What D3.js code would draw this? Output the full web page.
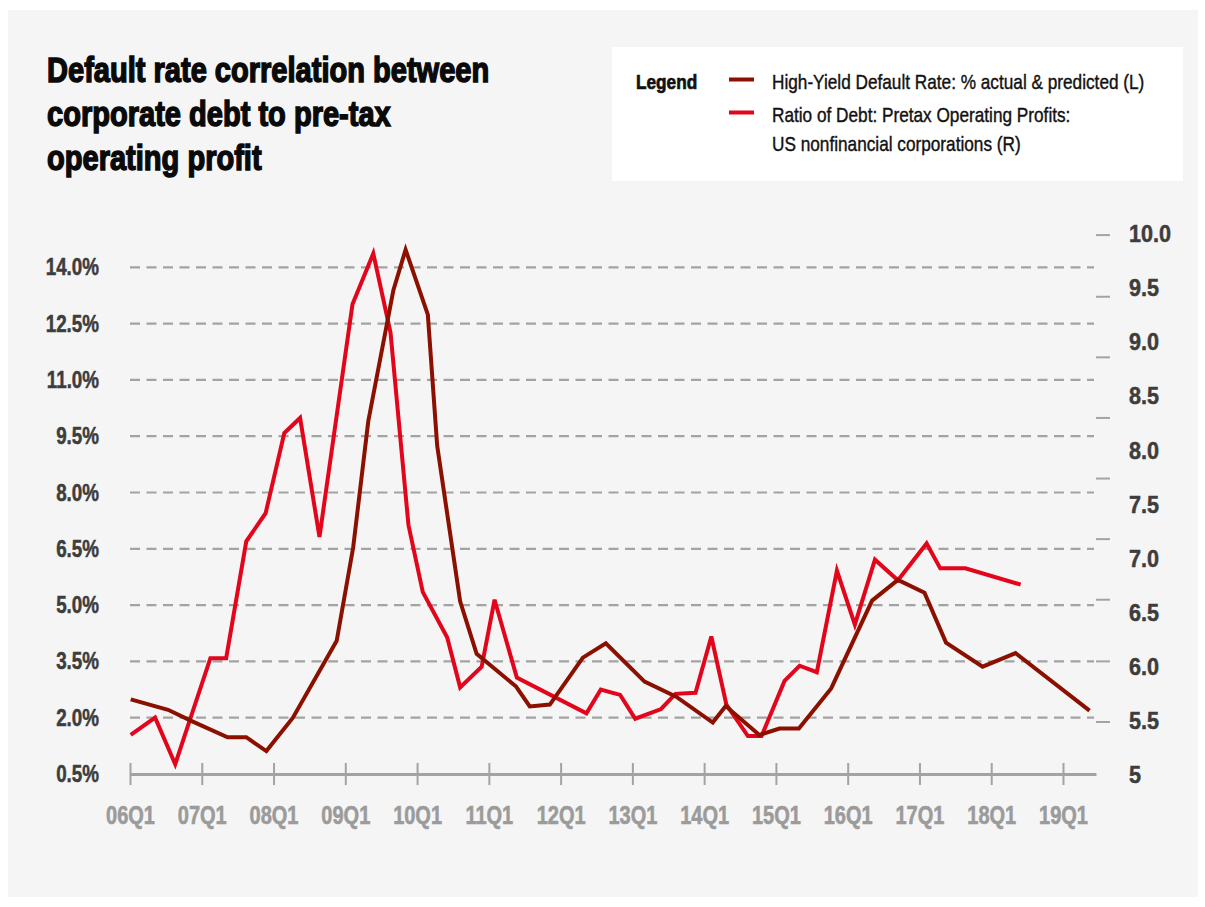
<!DOCTYPE html>
<html>
<head>
<meta charset="utf-8">
<script src="https://cdn.jsdelivr.net/npm/d3@7"></script>
<style>
  body { margin: 0; background: #ffffff; }
  text { font-family: 'Liberation Sans', Arial, sans-serif; }
</style>
</head>
<body>
<div id="graf"></div>
<script>
// Datos (fecha en anios decimales)
const defaultDates = [2006.01, 2006.53, 2006.86, 2007.36, 2007.62, 2007.90, 2008.27, 2008.88, 2009.11, 2009.32,
                      2009.67, 2009.84, 2010.15, 2010.28, 2010.60, 2010.83, 2011.38, 2011.57, 2011.85, 2012.31,
                      2012.63, 2013.17, 2013.61, 2014.12, 2014.30, 2014.77, 2015.05, 2015.32, 2015.77, 2016.34,
                      2016.70, 2017.07, 2017.37, 2017.88, 2018.34, 2019.37]
const defaultRate  = [2.49, 2.21, 1.91, 1.48, 1.48, 1.11, 2.00, 4.05, 6.54, 9.90,
                      13.39, 14.47, 12.74, 9.25, 5.10, 3.70, 2.83, 2.30, 2.35, 3.60,
                      3.98, 2.96, 2.56, 1.87, 2.31, 1.54, 1.71, 1.71, 2.78, 5.12,
                      5.67, 5.33, 4.00, 3.36, 3.72, 2.19]

const ratioDates  = [2006.01, 2006.35, 2006.63, 2007.12, 2007.34, 2007.62, 2007.89, 2008.15, 2008.37, 2008.64,
                     2009.10, 2009.39, 2009.63, 2009.88, 2010.08, 2010.42, 2010.60, 2010.90, 2011.08, 2011.39,
                     2012.36, 2012.56, 2012.83, 2013.04, 2013.40, 2013.60, 2013.88, 2014.10, 2014.31, 2014.61,
                     2014.80, 2015.12, 2015.33, 2015.57, 2015.85, 2016.10, 2016.38, 2016.70, 2017.10, 2017.29,
                     2017.64, 2018.41]
const ratioValues = [5.37, 5.53, 5.10, 6.08, 6.08, 7.16, 7.42, 8.16, 8.30, 7.20,
                     9.35, 9.82, 9.09, 7.31, 6.69, 6.27, 5.81, 6.00, 6.62, 5.90,
                     5.57, 5.79, 5.74, 5.52, 5.61, 5.75, 5.76, 6.28, 5.65, 5.36,
                     5.36, 5.87, 6.01, 5.95, 6.89, 6.39, 6.99, 6.80, 7.14, 6.91,
                     6.91, 6.76]

// Etiquetas de los ejes
const xTickYears   = [2006, 2007, 2008, 2009, 2010, 2011, 2012, 2013, 2014, 2015, 2016, 2017, 2018, 2019]
const xTickLabels  = ['06Q1', '07Q1', '08Q1', '09Q1', '10Q1', '11Q1', '12Q1', '13Q1', '14Q1', '15Q1', '16Q1', '17Q1', '18Q1', '19Q1']
const leftTicks    = [0.5, 2.0, 3.5, 5.0, 6.5, 8.0, 9.5, 11.0, 12.5, 14.0]
const rightTicks   = [5, 5.5, 6, 6.5, 7, 7.5, 8, 8.5, 9, 9.5, 10]
const rightMarks   = [9.99, 9.42, 8.86, 8.3, 7.74, 7.18, 6.62, 6.05, 5.49]

const titleLines  = ['Default rate correlation between', 'corporate debt to pre-tax', 'operating profit']
const legendItems = ['High-Yield Default Rate: % actual & predicted (L)', 'Ratio of Debt: Pretax Operating Profits:', 'US nonfinancial corporations (R)']

const colorDark = '#8b1000'
const colorRed  = '#e3051b'
const colorGrid = '#a3a3a3'

// Factor para simular letra angosta (condensada)
const angosto = 0.82

ancho_total = 1205
alto_total  = 907

svg = d3.select('#graf').append('svg')
        .attr('width', ancho_total)
        .attr('height', alto_total)

// Fondo gris del panel
svg.append('rect')
   .attr('x', 8).attr('y', 10)
   .attr('width', 1190).attr('height', 887)
   .attr('fill', '#f5f5f5')

// Escaladores
x  = d3.scaleLinear().domain([2006, 2019.46]).range([130, 1096])
yL = d3.scaleLinear().domain([0.5, 14]).range([774, 267.3])
yR = d3.scaleLinear().domain([5, 10]).range([775, 234])

// Titulo
svg.append('g').selectAll('text')
   .data(titleLines)
   .enter().append('text')
   .attr('transform', (d, i) => `translate(47, ${ 82 + i * 44 }) scale(0.83, 1)`)
   .attr('font-size', '35px')
   .attr('font-weight', 'bold')
   .attr('fill', '#0a0a0a')
   .attr('stroke', '#0a0a0a')
   .attr('stroke-width', 1.5)
   .text(d => d)

// Leyenda
leyenda = svg.append('g')
leyenda.append('rect')
       .attr('x', 612).attr('y', 47)
       .attr('width', 571).attr('height', 134)
       .attr('fill', '#ffffff')
leyenda.append('text')
       .attr('transform', `translate(636, 89) scale(${ angosto }, 1)`)
       .attr('font-size', '21px')
       .attr('font-weight', 'bold')
       .attr('fill', '#111')
       .attr('stroke', '#111')
       .attr('stroke-width', 0.7)
       .text('Legend')
leyenda.selectAll('line.sw')
       .data([colorDark, colorRed])
       .enter().append('line')
       .attr('class', 'sw')
       .attr('x1', 729).attr('x2', 754)
       .attr('y1', (d, i) => 79.5 + i * 33)
       .attr('y2', (d, i) => 79.5 + i * 33)
       .attr('stroke', d => d)
       .attr('stroke-width', 4)
leyenda.selectAll('text.item')
       .data(legendItems)
       .enter().append('text')
       .attr('class', 'item')
       .attr('transform', (d, i) => `translate(772, ${ [89, 121.7, 150.5][i] }) scale(${ angosto }, 1)`)
       .attr('font-size', '21px')
       .attr('fill', '#111')
       .attr('stroke', '#111')
       .attr('stroke-width', 0.4)
       .text(d => d)

// Lineas de cuadricula punteadas
svg.append('g').selectAll('line')
   .data(leftTicks.slice(1))
   .enter().append('line')
   .attr('x1', 130).attr('x2', 1094)
   .attr('y1', d => yL(d)).attr('y2', d => yL(d))
   .attr('stroke', colorGrid)
   .attr('stroke-width', 2.2)
   .attr('stroke-dasharray', '10,6.5')

// Eje izquierdo
yAxisCall = d3.axisLeft(yL)
              .tickValues(leftTicks)
              .tickSize(0)
              .tickPadding(0)
              .tickFormat(d => d.toFixed(1) + '%')
yAxisGroup = svg.append('g')
                .attr('transform', 'translate(99, 0)')
                .call(yAxisCall)
yAxisGroup.select('.domain').remove()
yAxisGroup.selectAll('text')
          .attr('font-family', null)
          .attr('font-size', '23.5px')
          .attr('font-weight', 'bold')
          .attr('fill', '#3d3d3d')
          .attr('stroke', '#3d3d3d')
          .attr('stroke-width', 0.5)
          .attr('transform', `scale(0.8, 1)`)

// Eje derecho
yRAxisCall = d3.axisRight(yR)
               .tickValues(rightTicks)
               .tickSize(0)
               .tickPadding(0)
               .tickFormat(d => d == 5 ? '5' : d.toFixed(1))
yRAxisGroup = svg.append('g')
                 .attr('transform', 'translate(1129, 0)')
                 .call(yRAxisCall)
yRAxisGroup.select('.domain').remove()
yRAxisGroup.selectAll('text')
           .attr('font-family', null)
           .attr('font-size', '24px')
           .attr('font-weight', 'bold')
           .attr('fill', '#3d3d3d')
           .attr('stroke', '#3d3d3d')
           .attr('stroke-width', 0.5)
           .attr('transform', `scale(0.9, 1)`)

// Marcas cortas del eje derecho
svg.append('g').selectAll('line')
   .data(rightMarks)
   .enter().append('line')
   .attr('x1', 1096).attr('x2', 1110)
   .attr('y1', d => yR(d)).attr('y2', d => yR(d))
   .attr('stroke', colorGrid)
   .attr('stroke-width', 2)

// Eje X
xAxisCall = d3.axisBottom(x)
              .tickValues(xTickYears)
              .tickSizeOuter(0)
              .tickSizeInner(11)
              .tickPadding(21)
              .tickFormat((d, i) => xTickLabels[i])
xAxisGroup = svg.append('g')
                .attr('transform', `translate(0, ${ yL(0.5) })`)
                .call(xAxisCall)
xAxisGroup.select('.domain')
          .attr('stroke', colorGrid)
          .attr('stroke-width', 3)
xAxisGroup.selectAll('.tick line')
          .attr('y1', -11)
          .attr('stroke', colorGrid)
          .attr('stroke-width', 2)
xAxisGroup.selectAll('text')
          .attr('font-family', null)
          .attr('font-size', '25px')
          .attr('font-weight', 'bold')
          .attr('fill', '#9b9b9b')
          .attr('stroke', '#9b9b9b')
          .attr('stroke-width', 0.6)
          .attr('transform', `scale(0.8, 1)`)

// Series
lineL = d3.line().x(d => x(d[0])).y(d => yL(d[1]))
lineR = d3.line().x(d => x(d[0])).y(d => yR(d[1]))

svg.append('path')
   .datum(ratioDates.map((d, i) => [d, ratioValues[i]]))
   .attr('d', lineR)
   .attr('fill', 'none')
   .attr('stroke', colorRed)
   .attr('stroke-width', 4)
   .attr('stroke-linejoin', 'miter')

svg.append('path')
   .datum(defaultDates.map((d, i) => [d, defaultRate[i]]))
   .attr('d', lineL)
   .attr('fill', 'none')
   .attr('stroke', colorDark)
   .attr('stroke-width', 4)
   .attr('stroke-linejoin', 'miter')
</script>
</body>
</html>
